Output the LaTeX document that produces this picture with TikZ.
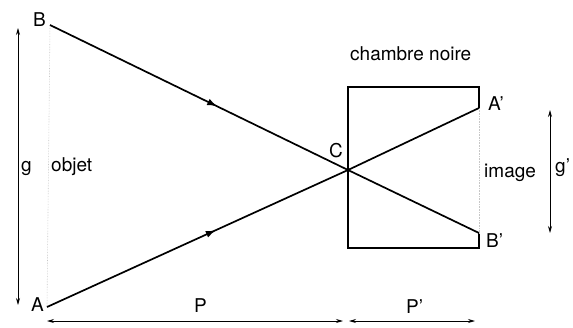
\documentclass[tikz,border=0pt]{standalone}
\usepackage{fontspec}
\setmainfont{TeX Gyre Heros}
\usepackage{tikz}
\usetikzlibrary{arrows.meta,decorations.markings}

\begin{document}
\begin{tikzpicture}[
        x=1pt, y=-1pt,
        lbl/.style={anchor=base west, inner sep=0pt, font=\fontsize{19}{22}\selectfont},
        ray/.style={line width=1.7pt,
            postaction={decorate},
            decoration={markings, mark=at position 0.39 with {\arrow{Latex[length=10pt,width=7pt]}}}},
        dimarrow/.style={{Stealth[length=7pt,width=4pt]}-{Stealth[length=7pt,width=4pt]}, line width=0.8pt},
        guide/.style={densely dotted, gray!45, line width=0.6pt},
        box/.style={line width=1.3pt}
    ]
    \useasboundingbox (0,0) rectangle (573,327);

    % points of the rays
    \coordinate (ptB) at (50,25);
    \coordinate (ptA) at (47,307);
    \coordinate (ptC) at (348,170);
    \coordinate (ptA2) at (479,108);
    \coordinate (ptB2) at (479,233);

    % labels
    \node[lbl] (labB) at (33,26) {B};
    \node[lbl] (labA) at (31,311) {A};
    \node[lbl] (labC) at (329,157) {C};
    \node[lbl] (labA2) at (488,110) {A'};
    \node[lbl] (labB2) at (486,247) {B'};
    \node[lbl] (labchambre) at (350,60) {chambre noire};
    \node[lbl] (labobjet) at (51,171) {objet};
    \node[lbl] (labimage) at (484,177) {image};
    \node[lbl] (labg) at (21,171) {g};
    \node[lbl] (labg2) at (555,172) {g'};
    \node[lbl] (labP) at (194,312) {P};
    \node[lbl] (labP2) at (406,313) {P'};

    % chambre noire
    \draw[box] (ptA2) -- (479,87) -- (348,87) -- (348,248) -- (479,248) -- (ptB2);
    \draw[guide] (ptA2) -- (ptB2);
    \draw[guide] (ptB) -- (ptA);

    % rayons
    \draw[ray] (ptB) -- (ptC) -- (ptB2);
    \draw[ray] (ptA) -- (ptC) -- (ptA2);

    % cotes
    \coordinate (gtop) at (18,28);
    \coordinate (gbot) at (18,305);
    \coordinate (g2top) at (550,110);
    \coordinate (g2bot) at (550,233);
    \coordinate (pleft) at (47,321);
    \coordinate (pmid) at (343,321);
    \coordinate (pmid2) at (349,321);
    \coordinate (pright) at (475,321);
    \draw[dimarrow] (gtop) -- (gbot);
    \draw[dimarrow] (g2top) -- (g2bot);
    \draw[dimarrow] (pleft) -- (pmid);
    \draw[dimarrow] (pmid2) -- (pright);

\end{tikzpicture}
\end{document}
